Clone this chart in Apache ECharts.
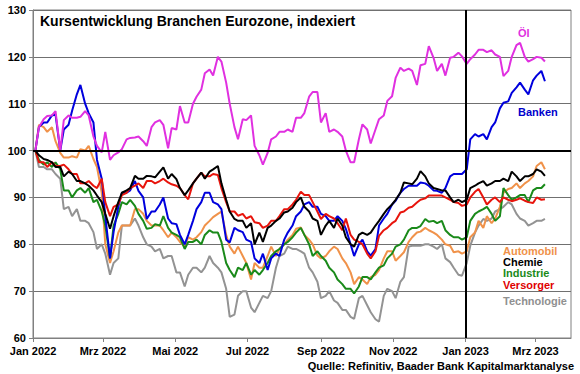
<!DOCTYPE html>
<html><head><meta charset="utf-8">
<script src="https://cdn.jsdelivr.net/npm/echarts@6/dist/echarts.min.js"></script>
<style>html,body{margin:0;padding:0;background:#fff}#c{width:580px;height:374px}</style>
</head><body><div id="c"></div>
<script>
// Trading-day samples: Mondays and Thursdays
const datesMon = ['2022-01-03','2022-01-10','2022-01-17','2022-01-24','2022-01-31','2022-02-07','2022-02-14','2022-02-21','2022-02-28','2022-03-07','2022-03-14','2022-03-21','2022-03-28','2022-04-04','2022-04-11','2022-04-18','2022-04-25','2022-05-02','2022-05-09','2022-05-16','2022-05-23','2022-05-30','2022-06-06','2022-06-13','2022-06-20','2022-06-27','2022-07-04','2022-07-11','2022-07-18','2022-07-25','2022-08-01','2022-08-08','2022-08-15','2022-08-22','2022-08-29','2022-09-05','2022-09-12','2022-09-19','2022-09-26','2022-10-03','2022-10-10','2022-10-17','2022-10-24','2022-10-31','2022-11-07','2022-11-14','2022-11-21','2022-11-28','2022-12-05','2022-12-12','2022-12-19','2022-12-26','2023-01-02','2023-01-09','2023-01-16','2023-01-23','2023-01-30','2023-02-06','2023-02-13','2023-02-20','2023-02-27','2023-03-06'];
const datesThu = ['2022-01-06','2022-01-13','2022-01-20','2022-01-27','2022-02-03','2022-02-10','2022-02-17','2022-02-24','2022-03-03','2022-03-10','2022-03-17','2022-03-24','2022-03-31','2022-04-07','2022-04-14','2022-04-21','2022-04-28','2022-05-05','2022-05-12','2022-05-19','2022-05-26','2022-06-02','2022-06-09','2022-06-16','2022-06-23','2022-06-30','2022-07-07','2022-07-14','2022-07-21','2022-07-28','2022-08-04','2022-08-11','2022-08-18','2022-08-25','2022-09-01','2022-09-08','2022-09-15','2022-09-22','2022-09-29','2022-10-06','2022-10-13','2022-10-20','2022-10-27','2022-11-03','2022-11-10','2022-11-17','2022-11-24','2022-12-01','2022-12-08','2022-12-15','2022-12-22','2022-12-29','2023-01-05','2023-01-12','2023-01-19','2023-01-26','2023-02-02','2023-02-09','2023-02-16','2023-02-23','2023-03-02','2023-03-09'];

const oelMon = [100,106.7,107.5,100,107.5,107,108.4,103,99.6,98,99.6,102.4,102.8,102,105,106.5,100.5,104.5,106,110,113,117.3,120,114.5,105,106.7,107.5,99,99.5,103,104,104,107,111.5,112.5,108,104.5,103,97.5,102.4,104.5,104.5,107.5,111.6,117.7,117.5,114,118.5,119.8,118.5,119.8,120.9,118.5,120.5,121.5,121.4,120,117,122.5,120,119.5,119.8];
const oelThu = [105,107.4,108.4,106.5,107,107.2,107.5,101,104,99,100.3,102.7,103,101,106,105.5,104.8,109.5,106,111.5,116.5,116,119,110,102.4,106.5,101,97,102.4,104,104.5,107,108,112.5,106,104,104,100,97.5,105.6,101.5,106.7,110.6,115.5,117,117,118.2,122.3,117,116,120,120.1,119.5,121.5,121,120.5,115.9,120,123,119,120,119];

const bankenMon = [100,106,107.5,100,105.5,112,110,106,94,77,88,91,93.5,90,87,88.5,85.5,84.3,80,85,89,91,88.5,81,83.5,82.6,80.5,76,74.5,78,81,84,87,89,88,86,85,85,80,80,78.5,79,85.5,88.5,91,92.5,92.5,93,91.5,91,94.5,95,96,103.5,103.5,105,109,110.5,113.5,113,115,117];
const bankenThu = [105,106,107.7,104.5,108.5,114,108,98,86,82.6,91,91.5,91.4,85.4,87,90,84.5,82,82,87.5,91,89,87.5,80.4,83,81,77,78,77,77.5,82.5,86,88.5,88,86.5,85,86,83.3,77.5,81,77.6,84,86.5,89.3,91.8,92.5,93.2,92.5,91.4,92,95,95,102.4,103,102.4,106,110.2,112.3,114.5,112,116,114.8];

const automobilMon = [100,105,105,99.5,98.5,98.5,100,98.2,91,76,82.5,84,87.5,86.5,84,84,81.5,81.5,79.5,81,82.6,85,86.5,82,78,77.5,72.5,75,77.5,77.5,80,82,83.6,81,77.6,77.5,79.5,77,74,73,71.5,73.5,77,78.5,77.5,80.5,82.5,83.5,82.5,81,79.7,78.5,78.5,82.5,83.5,84.5,88,91.8,93,93,94.5,97.5];
const automobilThu = [105.5,104,102,98.5,98.8,100.3,101,96.5,80,78.5,84,84,87.5,85,84,83,82.5,80.5,81.5,81.5,84,85.8,87,79.5,79.5,76,76,75,79.5,79,81,83.3,82,80,77,78.5,79,76,71.5,72.5,73,74.5,78.5,76.5,78.3,81.5,82.7,83,82,80,78.3,78,81.5,85,86,85.5,91,92,92,93.5,96.7,96];

const chemieMon = [100,98.2,97.5,96.5,95.5,93.5,93,91.5,89,83.3,89,91.5,94.6,94,94.5,95.5,94,93.9,90.5,93,95.3,95.5,96.7,89.5,85.4,85,84.5,82.5,83.5,85,86.8,87.8,90,87,85,84,83.5,84,80,82,82,84,86.5,88.5,91,93,94,94.5,92,91.5,90,89.5,89.5,92.5,93.5,93,93.5,93.5,94.5,94.5,95,95.5];
const chemieThu = [99,98,96.5,94.5,95,93.5,92.5,90.4,86.5,86,91,92,94,94.6,94.3,96.4,95,92,91.5,94,94,96,93,87,85,83.5,80,80.5,84,85.5,87,89,88,85.5,82,85,85.5,81.5,79.5,82.5,82.5,85,87.5,89.5,93.2,92.8,95.6,93,91.8,91.5,89,89,92,93,92.5,93.5,94,95.5,93.5,94.5,96,94.6];

const industrieMon = [100,97,96.5,96,91.5,91.5,91,89,87,77,86.5,88.5,88.2,85,83.5,84,83.5,82,79,80.5,80,83,82.5,76,73,74.5,73.5,73.5,76,78.5,80,81.5,83.5,80,78.5,76.5,74,71.5,70.5,71,73,74,75.5,78,80,83,83.5,85.4,85,85,82,81.5,81.5,86.5,87.5,86.5,86,90.5,90,90.5,91.5,92];
const industrieThu = [98,97.5,97.5,91.5,90,92,92,89.5,84,84,89,89.5,86.5,83.3,84.3,86,82.5,81.5,80.5,81,82,82.5,80.5,74.5,75,76,74.5,74.5,77.5,79,80.5,82.5,82,77.5,77.5,75,72.5,70.5,69.5,73,72.5,75,77,79.5,81,83.5,83.9,84.8,84.5,83,81.5,81,85,87,88,85,92,89.5,90.5,89,92,92.8];

const versorgerMon = [100,97.5,97.5,96.7,96,95,93,92.5,94,86,88.5,91,92.5,92,93.5,93.5,93.2,92.5,90.5,93,95.3,94.5,94.8,89,87,86.5,86,84.5,84,85,87.5,88.5,91.2,90.5,87,86.5,85.5,83,82,80.5,78,78.5,83,84.5,86.8,87.8,88.9,89.8,90.4,90.4,89.5,88.8,88.5,91.2,90,89.5,89,89.5,89.5,89.3,88.8,89.5];
const versorgerThu = [97.5,96.5,96.7,97,95,93,93.5,92,89,88,90.5,92,93,93.5,93,94,92.8,92,89.6,94,94.5,95,92,87,86.1,85.5,84.7,83.5,85,86,87.5,89.5,90.5,89,85.4,86,84.5,85.5,81,80,77,81.8,83.5,85,87,88,89.5,90.4,90.4,90,89,88.2,90,91.8,88.5,90,90,89.2,89.8,89,90,89.6];

const technologieMon = [100,96.5,96,94,88,87.5,85,82.6,80,73.5,77,84,85.5,81.5,79.5,79,77.5,74,71,75,74,77.5,75,70.5,65,70,66.5,67.5,68.5,75,78,79,78.5,75,72,69,68,66,64.5,68.5,67,64,69,70,72,79.5,79.7,80,79.5,80,76.2,73.5,76,82.5,85.4,85.5,87.5,89,86.5,85,84.5,85];
const technologieThu = [96.5,96,95,87.5,86,85,84.5,79,78,76,84,84,84,80,78.5,77,77.5,74,73.5,75,75,76,74,64.5,69,70,65.5,69,70,77.5,79.5,79,78,74,68.5,70,67.5,66,64.1,69,65.5,63.5,70.5,68.5,73,79.7,79.7,80,79,77,75,73.3,79.7,84,85,87,88,88.5,85.5,84,85,85.4];

const tickDates = ['2022-01-01','2022-03-01','2022-05-01','2022-07-01','2022-09-01','2022-11-01','2023-01-01','2023-03-01'];
const tickLabels = ['Jan 2022','Mrz 2022','Mai 2022','Jul 2022','Sep 2022','Nov 2022','Jan 2023','Mrz 2023'];

const FONT = '"Liberation Sans", Arial, sans-serif';
function ts(s){ const p = s.split('-').map(Number); return Date.UTC(p[0], p[1]-1, p[2]); }
function zip(a, b){ const out = []; for (let i = 0; i < a.length; i++){ out.push(a[i]); if (i < b.length) out.push(b[i]); } return out; }
const dates = zip(datesMon, datesThu);
const tickTs = tickDates.map(ts);
const labelMap = {}; tickTs.forEach((t,i)=>{ labelMap[t] = tickLabels[i]; });

function mk(name, mon, thu, color, extra){
  const vals = zip(mon, thu);
  return Object.assign({
    name: name, type: 'line', showSymbol: false, symbol: 'none',
    lineStyle: { width: 2, color: color }, itemStyle: { color: color },
    data: dates.map((d,i)=>[ts(d), vals[i]]), animation: false, silent: true
  }, extra || {});
}

const chart = echarts.init(document.getElementById('c'), null, { renderer: 'svg' });
const lbl = (text, left, top, color) => ({ text: text, left: left, top: top, padding: 0,
  textStyle: { fontFamily: FONT, fontSize: 11, fontWeight: 'bold', color: color, lineHeight: 12 } });

chart.setOption({
  animation: false,
  backgroundColor: '#fff',
  title: [
    { text: 'Kursentwicklung Branchen Eurozone, indexiert', left: 40, top: 13, padding: 0,
      textStyle: { fontFamily: FONT, fontSize: 14, fontWeight: 'bold', color: '#000', lineHeight: 16 } },
    { text: 'Quelle: Refinitiv, Baader Bank Kapitalmarktanalyse', right: 6, top: 360, padding: 0,
      textStyle: { fontFamily: FONT, fontSize: 11, fontWeight: 'bold', color: '#000', lineHeight: 12 } },
    lbl('Öl', 518, 27, '#e030e0'),
    lbl('Banken', 518, 106, '#0000cc'),
    lbl('Automobil', 503, 245, '#f0924a'),
    lbl('Chemie', 503, 256, '#000000'),
    lbl('Industrie', 503, 267, '#1a8a1a'),
    lbl('Versorger', 503, 279, '#e00000'),
    lbl('Technologie', 503, 295, '#909090')
  ],
  grid: { left: 33, right: 9, top: 10, bottom: 36, show: true, borderColor: '#808080', borderWidth: 1, backgroundColor: 'transparent' },
  xAxis: {
    type: 'value', min: ts('2022-01-01'), max: ts('2023-03-31'),
    axisLine: { show: true, onZero: false, lineStyle: { color: '#808080', width: 1 } },
    axisTick: { show: true, length: 4, lineStyle: { color: '#808080' }, customValues: tickTs },
    splitLine: { show: false },
    axisLabel: { customValues: tickTs, margin: 7, fontFamily: FONT, fontSize: 11, fontWeight: 'bold', color: '#000',
      formatter: (v) => labelMap[v] || '', hideOverlap: false, showMinLabel: true, showMaxLabel: true }
  },
  yAxis: {
    type: 'value', min: 60, max: 130, interval: 10,
    axisLine: { show: true, lineStyle: { color: '#808080', width: 1 } },
    axisTick: { show: true, length: 4, lineStyle: { color: '#808080' } },
    splitLine: { show: true, lineStyle: { color: '#707070', width: 1 } },
    axisLabel: { margin: 7, fontFamily: FONT, fontSize: 11, fontWeight: 'bold', color: '#000' }
  },
  series: [
    mk('Technologie', technologieMon, technologieThu, '#939393', {
      markLine: { silent: true, symbol: ['none','none'], label: { show: false }, animation: false,
        lineStyle: { color: '#000', width: 2, type: 'solid' },
        data: [ { yAxis: 100 }, { xAxis: ts('2023-01-01') } ] }
    }),
    mk('Automobil', automobilMon, automobilThu, '#f0924a'),
    mk('Industrie', industrieMon, industrieThu, '#1a8a1a'),
    mk('Banken', bankenMon, bankenThu, '#0000dd'),
    mk('Versorger', versorgerMon, versorgerThu, '#e8140c'),
    mk('Chemie', chemieMon, chemieThu, '#000000'),
    mk('Öl', oelMon, oelThu, '#e030e0')
  ]
});
</script>
</body></html>
